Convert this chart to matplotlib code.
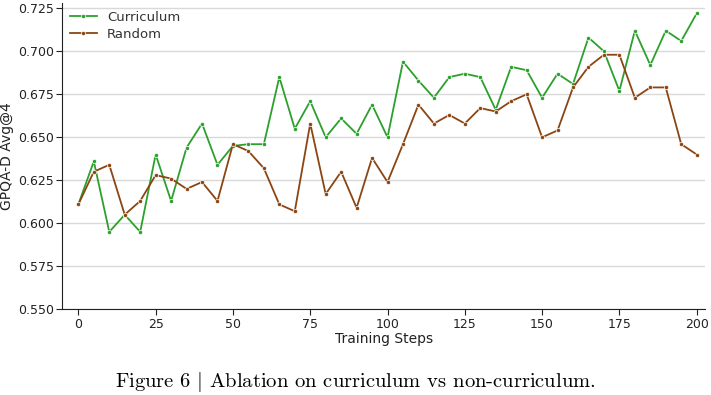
import matplotlib.pyplot as plt
import numpy as np

# Data
steps = np.arange(0, 201, 5)
curriculum = [0.611, 0.636, 0.595, 0.605, 0.595, 0.640, 0.613, 0.644, 0.658, 0.634,
              0.645, 0.646, 0.646, 0.685, 0.655, 0.671, 0.650, 0.661, 0.652, 0.669,
              0.650, 0.694, 0.683, 0.673, 0.685, 0.687, 0.685, 0.666, 0.691, 0.689,
              0.673, 0.687, 0.681, 0.708, 0.700, 0.677, 0.712, 0.692, 0.712, 0.706,
              0.722]
random_ = [0.611, 0.630, 0.634, 0.605, 0.613, 0.628, 0.626, 0.620, 0.624, 0.613,
           0.646, 0.642, 0.632, 0.611, 0.607, 0.658, 0.617, 0.630, 0.609, 0.638,
           0.624, 0.646, 0.669, 0.658, 0.663, 0.658, 0.667, 0.665, 0.671, 0.675,
           0.650, 0.654, 0.679, 0.691, 0.698, 0.698, 0.673, 0.679, 0.679, 0.646,
           0.640]
yticks = np.arange(0.550, 0.7251, 0.025)

plt.rcParams["mathtext.fontset"] = "cm"

fig = plt.figure(figsize=(7.11, 3.95), dpi=100)
ax = fig.add_axes([0.0876, 0.217, 0.904, 0.775])

ax.plot(steps, curriculum, color="#2ca02c", lw=1.3, marker="o", ms=3,
        mec="white", mew=0.5, label="Curriculum")
ax.plot(steps, random_, color="#8b4513", lw=1.3, marker="o", ms=3,
        mec="white", mew=0.5, label="Random")

ax.set_xlim(-5.2, 202.7)
ax.set_ylim(0.550, 0.728)
ax.set_xticks(np.arange(0, 201, 25))
ax.set_yticks(yticks)
ax.set_yticklabels([f"{v:.3f}" for v in yticks])
ax.tick_params(labelsize=9, length=4, width=0.8, colors="#222222", pad=2)
ax.yaxis.grid(True, color="#d9d9d9", lw=1)
ax.set_axisbelow(True)
for side in ["top", "right"]:
    ax.spines[side].set_visible(False)
for side in ["left", "bottom"]:
    ax.spines[side].set_color("#222222")

ax.set_xlabel("Training Steps", fontsize=10, labelpad=1, color="#222222")
ax.set_ylabel("GPQA-D Avg@4", fontsize=10, labelpad=3, color="#222222")
ax.legend(loc="upper left", frameon=False, fontsize=9.5, handlelength=2,
          borderaxespad=0.2, labelspacing=0.3, labelcolor="#333333")

fig.text(0.5, 0.02, r"Figure 6 $|$ Ablation on curriculum vs non-curriculum.",
         ha="center", va="baseline", fontsize=14.8, family="cmr10")

fig.savefig("out.png", dpi=100)
